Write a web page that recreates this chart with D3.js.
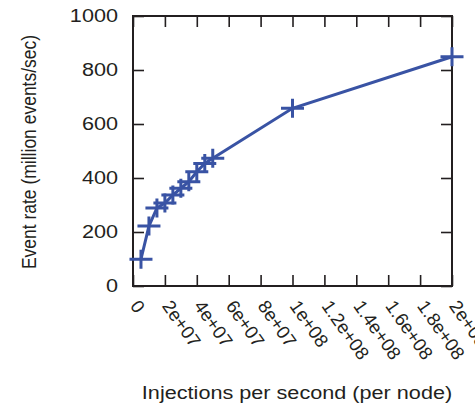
<!DOCTYPE html>
<html>
<head>
<meta charset="utf-8">
<script src="https://cdn.jsdelivr.net/npm/d3@7"></script>
<style>
  body { margin: 0; background: #fff; }
  text { font-family: "Liberation Sans", Arial, sans-serif; fill: #231f20; }
</style>
</head>
<body>
<div id="chart"></div>
<script>
var svgWidth = 475;
var svgHeight = 411;

var margin = { top: 16, right: 23, bottom: 125, left: 133 };
var width = svgWidth - margin.left - margin.right;
var height = svgHeight - margin.top - margin.bottom;

// data
var injections = [5e6, 1e7, 1.5e7, 2e7, 2.5e7, 3e7, 3.5e7, 4e7, 4.5e7, 5e7, 1e8, 2e8];
var eventRate = [99, 222, 289, 307, 337, 362, 386, 423, 454, 473, 658, 849];
var xTicks = [0, 2e7, 4e7, 6e7, 8e7, 1e8, 1.2e8, 1.4e8, 1.6e8, 1.8e8, 2e8];
var xTickLabels = ["0", "2e+07", "4e+07", "6e+07", "8e+07", "1e+08", "1.2e+08", "1.4e+08", "1.6e+08", "1.8e+08", "2e+08"];
var yTicks = [0, 200, 400, 600, 800, 1000];

var lineColor = "#3953a4";
var stretch = 1.17; // text in the picture is a bit wider than it is tall

var svg = d3.select("#chart")
  .append("svg")
  .attr("width", svgWidth)
  .attr("height", svgHeight)
  .style("overflow", "visible");

var chartGroup = svg.append("g")
  .attr("transform", `translate(${margin.left}, ${margin.top})`);

var xScale = d3.scaleLinear().domain([0, 2e8]).range([0, width]);
var yScale = d3.scaleLinear().domain([0, 1000]).range([height, 0]);

var tickLen = 11;

// bottom axis (ticks inward), labels rotated
var bottomAxis = d3.axisBottom(xScale)
  .tickValues(xTicks)
  .tickSizeInner(-tickLen)
  .tickSizeOuter(0)
  .tickFormat((d, i) => xTickLabels[i]);

var xAxis = chartGroup.append("g")
  .attr("transform", `translate(0, ${height})`)
  .call(bottomAxis);

xAxis.selectAll("text")
  .attr("text-anchor", "start")
  .attr("x", 0)
  .attr("y", 0)
  .attr("dy", 0)
  .attr("transform", "translate(-4, 20) rotate(55)")
  .style("font-size", "18.5px");

// top axis mirror ticks
var topAxis = d3.axisTop(xScale)
  .tickValues(xTicks)
  .tickSizeInner(-tickLen)
  .tickSizeOuter(0)
  .tickFormat("");
chartGroup.append("g").call(topAxis);

// left axis
var leftAxis = d3.axisLeft(yScale)
  .tickValues(yTicks)
  .tickSizeInner(-tickLen)
  .tickSizeOuter(0)
  .tickFormat(d3.format("d"));

var yAxis = chartGroup.append("g").call(leftAxis);
yAxis.selectAll("text")
  .attr("x", 0)
  .attr("transform", `translate(-15, 0) scale(${stretch}, 1)`)
  .style("font-size", "18.5px");

// right mirror ticks
var rightAxis = d3.axisRight(yScale)
  .tickValues(yTicks)
  .tickSizeInner(-tickLen)
  .tickSizeOuter(0)
  .tickFormat("");
chartGroup.append("g")
  .attr("transform", `translate(${width}, 0)`)
  .call(rightAxis);

chartGroup.selectAll(".domain").remove();
chartGroup.selectAll(".tick line").attr("stroke", "#231f20").attr("stroke-width", 1.6);

// frame
chartGroup.append("rect")
  .attr("width", width)
  .attr("height", height)
  .attr("fill", "none")
  .attr("stroke", "#231f20")
  .attr("stroke-width", 2);

var data = injections.map((x, i) => ({ x: x, y: eventRate[i] }));

var line = d3.line()
  .x(d => xScale(d.x))
  .y(d => yScale(d.y));

chartGroup.append("path")
  .datum(data)
  .attr("d", line)
  .attr("fill", "none")
  .attr("stroke", lineColor)
  .attr("stroke-width", 3);

// "+" point markers
var crossW = 11.5, crossH = 9.5;
chartGroup.selectAll(".cross")
  .data(data)
  .enter()
  .append("path")
  .attr("class", "cross")
  .attr("d", d => {
    var cx = xScale(d.x), cy = yScale(d.y);
    return `M${cx - crossW},${cy}H${cx + crossW}M${cx},${cy - crossH}V${cy + crossH}`;
  })
  .attr("fill", "none")
  .attr("stroke", lineColor)
  .attr("stroke-width", 3);

// axis labels
svg.append("text")
  .attr("transform", `translate(36, ${margin.top + height / 2 + 1}) rotate(-90) scale(1, ${stretch})`)
  .attr("text-anchor", "middle")
  .style("font-size", "17.5px")
  .text("Event rate (million events/sec)");

svg.append("text")
  .attr("transform", `translate(297, 399) scale(${stretch}, 1)`)
  .attr("text-anchor", "middle")
  .style("font-size", "18.5px")
  .text("Injections per second (per node)");
</script>
</body>
</html>
